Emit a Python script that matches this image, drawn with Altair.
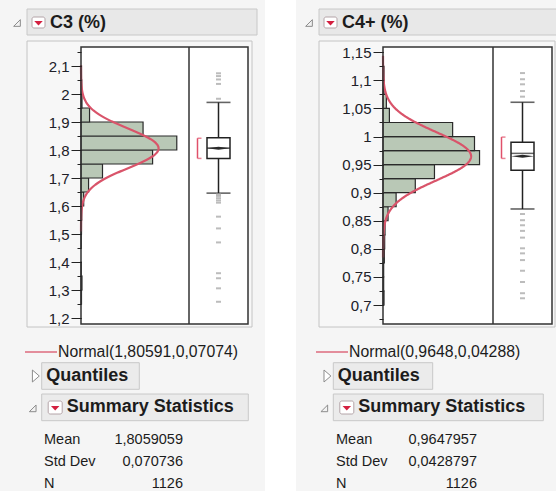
import altair as alt
import pandas as pd

FONT = "Liberation Sans"
W, H = 556, 491

# ---------------- data: C3 (%) ----------------
c3_name = "C3 (%)"
c3_bin_lo = [1.25, 1.30, 1.35, 1.45, 1.50, 1.55, 1.60, 1.65, 1.70, 1.75, 1.80, 1.85, 1.90, 1.95, 2.00, 2.05]
c3_counts = [2, 4, 1, 1, 2, 3, 11, 31, 88, 293, 392, 254, 35, 4, 3, 2]
c3_bin_width = 0.05
c3_fit = [1.80591, 0.07074]                 # Normal(mu, sigma)
c3_summary = [1.8059059, 0.070736, 1126]    # Mean, Std Dev, N
c3_box = [1.646, 1.770, 1.807, 1.844, 1.970]  # lower whisker, Q1, median, Q3, upper whisker
c3_short_half = [1.770, 1.842]
c3_outliers = [2.074, 2.064, 2.052, 2.036, 1.983, 1.642, 1.636, 1.628, 1.620, 1.612,
               1.562, 1.520, 1.470, 1.360, 1.342, 1.306, 1.258]
c3_major = [1.2, 1.3, 1.4, 1.5, 1.6, 1.7, 1.8, 1.9, 2.0, 2.1]
c3_minor = [1.2, 1.25, 1.3, 1.35, 1.4, 1.45, 1.5, 1.55, 1.6, 1.65, 1.7, 1.75, 1.8, 1.85,
            1.9, 1.95, 2.0, 2.05, 2.1, 2.15]
c3_ydomain = [1.1786, 2.1679]
c3_xdomain = [0, 442]

# ---------------- data: C4+ (%) ----------------
c4_name = "C4+ (%)"
c4_bin_lo = [0.700, 0.725, 0.750, 0.775, 0.800, 0.825, 0.850, 0.875, 0.900, 0.925, 0.950,
             0.975, 1.000, 1.025, 1.050, 1.075, 1.100]
c4_counts = [3, 2, 2, 4, 5, 6, 15, 39, 96, 153, 287, 272, 207, 19, 10, 3, 3]
c4_bin_width = 0.025
c4_fit = [0.9648, 0.04288]
c4_summary = [0.9647957, 0.0428797, 1126]
c4_box = [0.871, 0.940, 0.970, 0.990, 1.061]
c4_short_half = [0.961, 0.999]
c4_outliers = [1.113, 1.102, 1.093, 1.081, 1.071, 0.862, 0.851, 0.842, 0.832, 0.820,
               0.801, 0.792, 0.780, 0.761, 0.741, 0.721, 0.712]
c4_major = [0.7, 0.75, 0.8, 0.85, 0.9, 0.95, 1.0, 1.05, 1.1, 1.15]
c4_minor = [0.675, 0.7, 0.725, 0.75, 0.775, 0.8, 0.825, 0.85, 0.875, 0.9, 0.925, 0.95,
            0.975, 1.0, 1.025, 1.05, 1.075, 1.1, 1.125, 1.15]
c4_ydomain = [0.6662, 1.1594]
c4_xdomain = [0, 327]

stat_labels = ["Mean", "Std Dev", "N"]

# ---------------- styles ----------------
BG = "#f5f5f5"
HEADER_FILL = "#e8e8e8"
HEADER_STROKE = "#c8c8c8"
OUTER_STROKE = "#c4c4c4"
HIST_FILL = "#b9c8b6"
CURVE = "#d9546a"
RED = "#d42040"
INK = "#1c1c1c"

one_row = pd.DataFrame({"k": [0]})


def dec(s):
    return str(s).replace(".", ",")


def rect(x1, y1, x2, y2, fill=None, stroke=None, sw=1.0, radius=0):
    kw = {}
    if fill:
        kw["fill"] = fill
    else:
        kw["fillOpacity"] = 0
    if stroke:
        kw["stroke"] = stroke
        kw["strokeWidth"] = sw
    else:
        kw["strokeWidth"] = 0
    if radius:
        kw["cornerRadius"] = radius
    return alt.Chart(one_row).mark_rect(**kw).encode(
        x=alt.value(x1), x2=alt.value(x2), y=alt.value(y1), y2=alt.value(y2))


def text(x, y, s, size=15, weight="normal", align="left", color=INK):
    return alt.Chart(one_row).mark_text(
        text=s, font=FONT, fontSize=size, fontWeight=weight, align=align,
        baseline="middle", color=color).encode(x=alt.value(x), y=alt.value(y))


def symbol(x, y, path, size, fill=None, stroke=None, sw=1.0):
    kw = dict(shape=path, size=size, opacity=1)
    if fill:
        kw.update(filled=True, fill=fill)
    else:
        kw.update(filled=False)
    if stroke:
        kw.update(stroke=stroke, strokeWidth=sw)
    else:
        kw.update(strokeWidth=0)
    return alt.Chart(one_row).mark_point(**kw).encode(x=alt.value(x), y=alt.value(y))


def hline(x1, x2, y, color, sw=1.5):
    return alt.Chart(one_row).mark_rule(color=color, strokeWidth=sw).encode(
        x=alt.value(x1), x2=alt.value(x2), y=alt.value(y))


def vline(x, y1, y2, color, sw=1.5):
    return alt.Chart(one_row).mark_rule(color=color, strokeWidth=sw).encode(
        x=alt.value(x), y=alt.value(y1), y2=alt.value(y2))


OPEN_TRI = "M0.8,-0.8L0.8,0.8L-0.8,0.8Z"
CLOSED_TRI = "M-0.55,-1L0.6,0L-0.55,1Z"
DOWN_TRI = "M-1,-0.5L1,-0.5L0,0.6Z"
DIAMOND = "M-1,0L0,-0.13L1,0L0,0.13Z"


def red_icon(x1, y1, x2, y2):
    return [rect(x1, y1, x2, y2, fill="white", stroke="#b4a4a8", sw=1, radius=2),
            symbol((x1 + x2) / 2, (y1 + y2) / 2 + 0.5, DOWN_TRI, 72, fill=RED)]


def panel(name, bins, counts, bw, fit, summary, box, short, outliers, major, minor,
          ydom, xdom, g):
    L = []
    px1, py1, px2, py2, div = g["plot"]
    # column background
    L.append(rect(g["col"][0], 0, g["col"][1], H, fill=BG))
    # header bar
    hx1, hy1, hx2, hy2 = g["header"]
    L.append(rect(hx1, hy1, hx2, hy2, fill=HEADER_FILL, stroke=HEADER_STROKE))
    L.append(symbol(g["tri"], (hy1 + hy2) / 2 + 1, OPEN_TRI, 70, fill="#f2f2f2", stroke="#8c8c8c"))
    L += red_icon(*g["icon"])
    L.append(text(g["title_x"], (hy1 + hy2) / 2 + 0.5, name, size=18, weight="bold"))
    # outer frame and plot background
    L.append(rect(*g["outer"], fill="#f7f7f7", stroke=OUTER_STROKE))
    L.append(rect(px1, py1, px2, py2, fill="white"))

    ysc = alt.Scale(domain=ydom, range=[py2, py1], nice=False, zero=False)
    xh = alt.Scale(domain=xdom, range=[px1, div], nice=False, zero=False)
    common_axis = dict(orient="left", offset=-px1, domain=False, grid=False, title=None,
                       tickColor="#222222", tickWidth=1, zindex=2)
    major_axis = alt.Axis(values=major, tickSize=10, labelFont=FONT, labelFontSize=15,
                          labelColor="#202028", labelPadding=2, labelOverlap=False,
                          labelFlush=False,
                          labelExpr="replace(format(datum.value, '.6~g'), '.', ',')",
                          **common_axis)
    minor_axis = alt.Axis(values=minor, tickSize=4, labels=False, **common_axis)

    # histogram
    hist = pd.DataFrame({"lo": bins, "hi": [round(b + bw, 4) for b in bins], "n": counts})
    L.append(alt.Chart(hist).mark_rect(fill=HIST_FILL, stroke="#2a2a2a", strokeWidth=1.2).encode(
        x=alt.X("n:Q", scale=xh, axis=None), x2=alt.datum(0),
        y=alt.Y("lo:Q", scale=ysc, axis=major_axis), y2="hi:Q"))

    # fitted normal curve
    mu, sd = fit
    n = summary[2]
    curve = alt.Chart(alt.sequence(mu - 4.2 * sd, mu + 4.2 * sd, sd / 40, as_="v")).transform_calculate(
        d=f"{n * bw}*exp(-0.5*pow((datum.v-{mu})/{sd},2))/({sd}*sqrt(2*PI))"
    ).mark_line(color=CURVE, strokeWidth=2.2).encode(
        x=alt.X("d:Q", scale=xh, axis=None),
        y=alt.Y("v:Q", scale=ysc, axis=minor_axis),
        order="v:Q")
    L.append(curve)

    # plot frame
    L.append(rect(px1, py1, px2, py2, stroke="#333333", sw=1.5))
    L.append(vline(div, py1, py2, "#333333", 1.5))

    # box plot
    bdf = pd.DataFrame({"var": [name], "lw": [box[0]], "q1": [box[1]], "med": [box[2]],
                        "q3": [box[3]], "uw": [box[4]], "mean": [summary[0]],
                        "s_lo": [short[0]], "s_hi": [short[1]]})
    xs = alt.Scale(type="point", domain=[name], range=[div, px2], padding=0.5)
    X = alt.X("var:N", scale=xs, axis=None)

    def Y(f):
        return alt.Y(f, type="quantitative", scale=ysc, axis=None)

    base = alt.Chart(bdf)
    L.append(base.mark_rule(color="#222222", strokeWidth=1.5).encode(x=X, y=Y("lw"), y2="uw:Q"))
    L.append(base.transform_fold(["lw", "uw"], as_=["k", "val"]).mark_tick(
        size=24, thickness=1.6, color="#222222").encode(x=X, y=Y("val")))
    L.append(base.mark_bar(size=23, fill="white", stroke="#222222", strokeWidth=1.5).encode(
        x=X, y=Y("q1"), y2="q3:Q"))
    L.append(base.mark_tick(size=23, thickness=1.5, color="#222222").encode(x=X, y=Y("med")))
    L.append(base.mark_point(shape=DIAMOND, size=529, filled=True, fill="#2a2a2a",
                             opacity=1, strokeWidth=0).encode(x=X, y=Y("mean")))
    # shortest half bracket
    L.append(base.mark_rule(color="#e0506a", strokeWidth=1.5, xOffset=-21).encode(
        x=X, y=Y("s_lo"), y2="s_hi:Q"))
    L.append(base.transform_fold(["s_lo", "s_hi"], as_=["k", "val"]).mark_tick(
        size=4, thickness=1.5, color="#e0506a", xOffset=-19).encode(x=X, y=Y("val")))
    # outliers
    odf = pd.DataFrame({"var": [name] * len(outliers), "v": outliers})
    L.append(alt.Chart(odf).mark_tick(size=5, thickness=2, color="#a0a0a0").encode(
        x=X, y=Y("v")))

    # legend for fitted normal
    lx1, lx2, ly = g["legend"]
    L.append(hline(lx1, lx2, ly, CURVE, 1.3))
    L.append(text(lx2 + 1, ly, f"Normal({dec(fit[0])},{dec(fit[1])})", size=15.8))

    # Quantiles (collapsed)
    qx1, qy1, qx2, qy2 = g["quant"]
    L.append(rect(qx1, qy1, qx2, qy2, fill="#ebebeb", stroke=HEADER_STROKE))
    L.append(symbol(qx1 - 6, (qy1 + qy2) / 2, CLOSED_TRI, 144, fill="white", stroke="#8c8c8c"))
    L.append(text(qx1 + 4.5, (qy1 + qy2) / 2, "Quantiles", size=18, weight="bold"))

    # Summary Statistics (open)
    sx1, sy1, sx2, sy2 = g["summ"]
    L.append(rect(sx1, sy1, sx2, sy2, fill="#ebebeb", stroke=HEADER_STROKE))
    L.append(symbol(sx1 - 9, (sy1 + sy2) / 2 + 1, OPEN_TRI, 70, fill="#f2f2f2", stroke="#8c8c8c"))
    L += red_icon(sx1 + 6.5, sy1 + 7, sx1 + 20.5, sy1 + 20)
    L.append(text(sx1 + 25, (sy1 + sy2) / 2, "Summary  Statistics", size=18, weight="bold"))

    # stats table
    vals = [dec(summary[0]), dec(summary[1]), str(summary[2])]
    for i, (lab, val) in enumerate(zip(stat_labels, vals)):
        yy = 439.5 + i * 22
        L.append(text(g["stat_lx"], yy, lab, size=14.5))
        L.append(text(g["stat_vx"], yy, val, size=14.5, align="right"))
    return L


left_geo = dict(col=(0, 265), header=(27, 9, 257, 35), tri=17, icon=(32, 17, 45, 28),
                title_x=50, outer=(27, 41, 252, 327), plot=(81, 47, 248, 324, 189),
                legend=(25, 57, 352), quant=(41.7, 362.7, 139.3, 389.3),
                summ=(41.7, 394, 248.3, 420.7), stat_lx=44, stat_vx=183)
right_geo = dict(col=(296, 556), header=(319, 9, 562, 35), tri=309, icon=(324, 17, 337, 28),
                 title_x=342, outer=(319, 41, 555, 327), plot=(383, 47, 552, 324, 493),
                 legend=(316, 348, 352), quant=(333.3, 362.7, 432.7, 389.3),
                 summ=(333.3, 394, 543.3, 420.7), stat_lx=336, stat_vx=477)

layers = []
layers += panel(c3_name, c3_bin_lo, c3_counts, c3_bin_width, c3_fit, c3_summary, c3_box,
                c3_short_half, c3_outliers, c3_major, c3_minor, c3_ydomain, c3_xdomain, left_geo)
layers += panel(c4_name, c4_bin_lo, c4_counts, c4_bin_width, c4_fit, c4_summary, c4_box,
                c4_short_half, c4_outliers, c4_major, c4_minor, c4_ydomain, c4_xdomain, right_geo)

chart = alt.layer(*layers).resolve_scale(
    x="independent", y="independent"
).properties(
    width=W, height=H, autosize=alt.AutoSizeParams(type="none"), padding=0, background="white"
).configure_view(stroke=None)

chart.save("out.html", embed_options={"renderer": "svg", "actions": False})
